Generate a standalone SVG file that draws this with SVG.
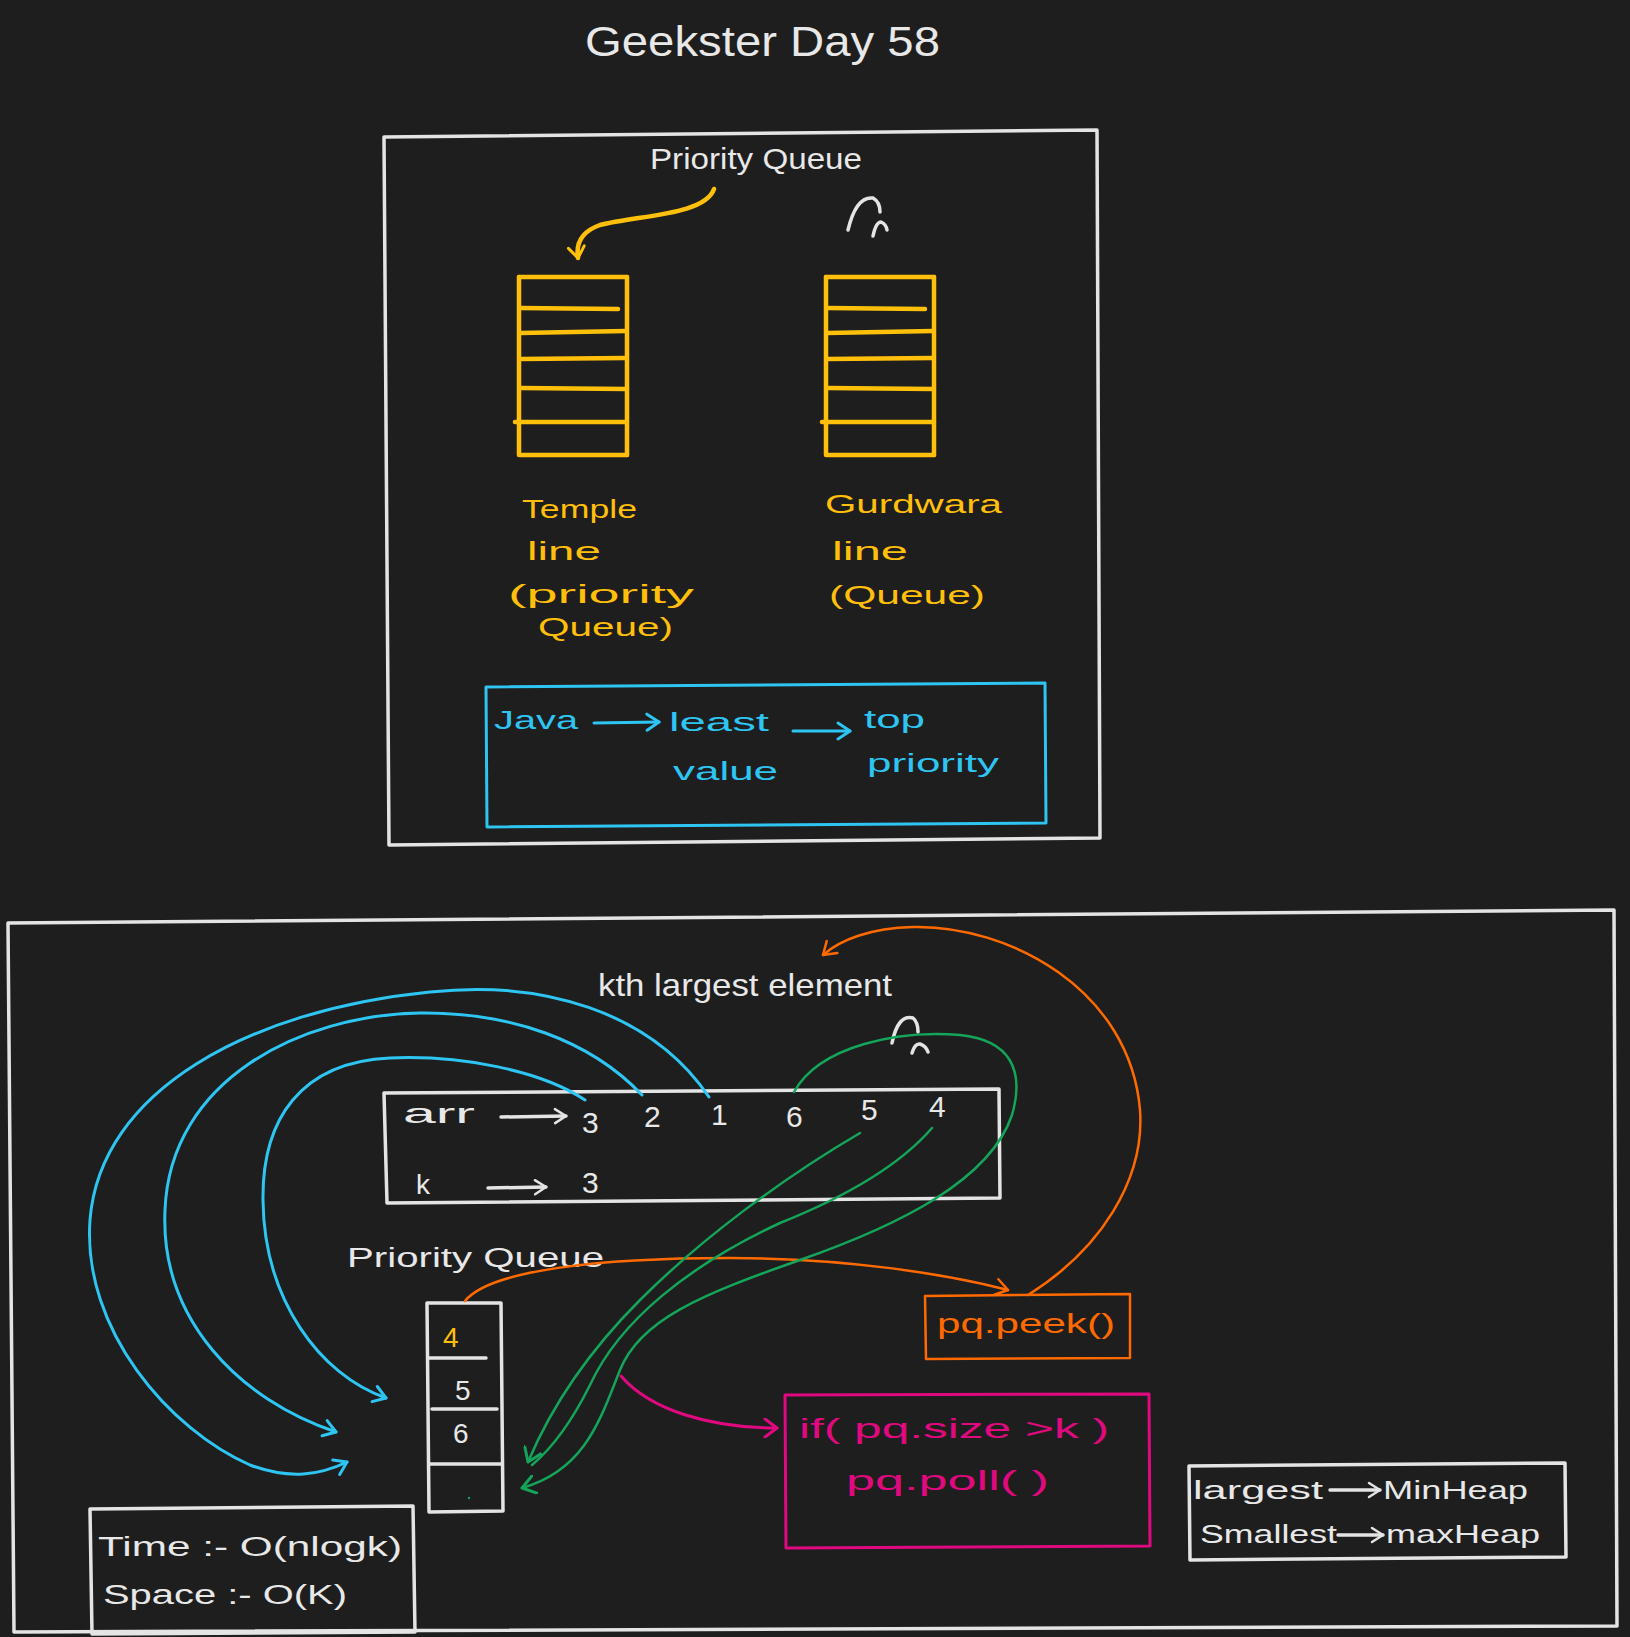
<svg xmlns="http://www.w3.org/2000/svg" width="1630" height="1637" viewBox="0 0 1630 1637">
<style>
.bg{fill:#1e1e1e}
.w{fill:none;stroke:#e4e4e4;stroke-width:3.5;stroke-linecap:round;stroke-linejoin:round}
.y{fill:none;stroke:#ffbf0b;stroke-width:4.5;stroke-linecap:round;stroke-linejoin:round}
.b{fill:none;stroke:#2ec5f3;stroke-width:3;stroke-linecap:round;stroke-linejoin:round}
.o{fill:none;stroke:#ff6a00;stroke-width:2.5;stroke-linecap:round;stroke-linejoin:round}
.g{fill:none;stroke:#14a45a;stroke-width:2.5;stroke-linecap:round;stroke-linejoin:round}
.m{fill:none;stroke:#e0097f;stroke-width:3;stroke-linecap:round;stroke-linejoin:round}
text{font-family:"Liberation Sans","DejaVu Sans",sans-serif}
.tw{fill:#e8e8e8}
.ty{fill:#ffbf0b}
.tb{fill:#2ec5f3}
.to{fill:#ff6a00}
.tm{fill:#e0097f}
</style>
<defs>
<marker id="aw" viewBox="-14 -10 16 20" markerWidth="16" markerHeight="20" refX="0" refY="0" orient="auto" markerUnits="userSpaceOnUse"><path d="M-11,-7 L0,0 L-11,7" fill="none" stroke="#e4e4e4" stroke-width="2.5" stroke-linecap="round" stroke-linejoin="round"/></marker>
<marker id="ay" viewBox="-14 -10 16 20" markerWidth="16" markerHeight="20" refX="0" refY="0" orient="auto" markerUnits="userSpaceOnUse"><path d="M-11,-8 L0,0 L-11,8" fill="none" stroke="#ffbf0b" stroke-width="3" stroke-linecap="round" stroke-linejoin="round"/></marker>
<marker id="ab" viewBox="-14 -10 16 20" markerWidth="16" markerHeight="20" refX="0" refY="0" orient="auto" markerUnits="userSpaceOnUse"><path d="M-12,-8 L0,0 L-12,8" fill="none" stroke="#2ec5f3" stroke-width="3" stroke-linecap="round" stroke-linejoin="round"/></marker>
<marker id="ao" viewBox="-14 -10 16 20" markerWidth="16" markerHeight="20" refX="0" refY="0" orient="auto" markerUnits="userSpaceOnUse"><path d="M-12,-8 L0,0 L-12,8" fill="none" stroke="#ff6a00" stroke-width="2.5" stroke-linecap="round" stroke-linejoin="round"/></marker>
<marker id="ag" viewBox="-14 -10 16 20" markerWidth="16" markerHeight="20" refX="0" refY="0" orient="auto" markerUnits="userSpaceOnUse"><path d="M-13,-9 L0,0 L-13,9" fill="none" stroke="#14a45a" stroke-width="3" stroke-linecap="round" stroke-linejoin="round"/></marker>
<marker id="am" viewBox="-14 -10 16 20" markerWidth="16" markerHeight="20" refX="0" refY="0" orient="auto" markerUnits="userSpaceOnUse"><path d="M-12,-9 L0,0 L-12,9" fill="none" stroke="#e0097f" stroke-width="3" stroke-linecap="round" stroke-linejoin="round"/></marker>
</defs>
<rect class="bg" x="0" y="0" width="1630" height="1637"/>

<g id="title"><text class="tw" x="585" y="56" font-size="42" textLength="355" lengthAdjust="spacingAndGlyphs">Geekster Day 58</text></g>

<g id="top-frame"><path class="w" d="M384,137 L1097,130 L1100,838 L389,845 Z"/></g>

<g id="pq-label"><text class="tw" x="650" y="169" font-size="29" textLength="212" lengthAdjust="spacingAndGlyphs">Priority Queue</text></g>

<g id="marks-top">
<path class="w" d="M848,230 Q856,196 873,198 Q880,202 880,212"/>
<path class="w" d="M873,236 Q876,222 881,222 Q886,224 887,230"/>
</g>

<g id="temple-stack">
<path class="y" d="M519,277 L519,455 M627,277 L627,455"/>
<path class="y" d="M519,277 L627,277" stroke-width="5.5"/>
<path class="y" d="M520,308 L618,309 M520,333 L626,331 M520,359 L626,358 M520,388 L627,389 M515,422 L627,422"/>
<path class="y" d="M520,455 L627,455" stroke-width="5.5"/>
</g>
<g id="gurdwara-stack">
<path class="y" d="M826,277 L826,455 M934,277 L934,455"/>
<path class="y" d="M826,277 L934,277" stroke-width="5.5"/>
<path class="y" d="M827,308 L925,309 M827,333 L933,331 M827,359 L933,358 M827,388 L934,389 M822,422 L934,422"/>
<path class="y" d="M827,455 L934,455" stroke-width="5.5"/>
</g>

<g id="temple-label">
<text class="ty" x="522" y="518" font-size="26" textLength="115" lengthAdjust="spacingAndGlyphs">Temple</text>
<text class="ty" x="527" y="560" font-size="26" textLength="74" lengthAdjust="spacingAndGlyphs">line</text>
<text class="ty" x="508" y="603" font-size="26" textLength="186" lengthAdjust="spacingAndGlyphs">(priority</text>
<text class="ty" x="538" y="636" font-size="26" textLength="135" lengthAdjust="spacingAndGlyphs">Queue)</text>
</g>
<g id="gurdwara-label">
<text class="ty" x="825" y="513" font-size="26" textLength="177" lengthAdjust="spacingAndGlyphs">Gurdwara</text>
<text class="ty" x="832" y="560" font-size="26" textLength="76" lengthAdjust="spacingAndGlyphs">line</text>
<text class="ty" x="829" y="604" font-size="26" textLength="156" lengthAdjust="spacingAndGlyphs">(Queue)</text>
</g>

<g id="java-box">
<path class="b" d="M486,687 L1045,683 L1046,823 L487,827 Z" stroke-width="4"/>
<text class="tb" x="494" y="729" font-size="26" textLength="84" lengthAdjust="spacingAndGlyphs">Java</text>
<text class="tb" x="669" y="731" font-size="26" textLength="100" lengthAdjust="spacingAndGlyphs">least</text>
<text class="tb" x="864" y="728" font-size="26" textLength="61" lengthAdjust="spacingAndGlyphs">top</text>
<text class="tb" x="673" y="780" font-size="26" textLength="105" lengthAdjust="spacingAndGlyphs">value</text>
<text class="tb" x="867" y="772" font-size="26" textLength="132" lengthAdjust="spacingAndGlyphs">priority</text>
<path class="b" d="M594,723 L659,722" marker-end="url(#ab)"/>
<path class="b" d="M793,731 L850,731" marker-end="url(#ab)"/>
</g>

<g id="bottom-frame"><path class="w" d="M8,923 L1614,910 L1617,1626 L14,1632 Z"/></g>

<g id="kth-label"><text class="tw" x="598" y="996" font-size="32" textLength="294" lengthAdjust="spacingAndGlyphs">kth largest element</text></g>

<g id="marks-bottom">
<path class="w" d="M892,1043 Q898,1014 913,1018 Q918,1022 918,1032"/>
<path class="w" d="M912,1053 Q915,1043 920,1044 Q926,1046 928,1052"/>
</g>

<g id="arr-box">
<path class="w" d="M384,1093 L999,1089 L1000,1198 L387,1203 Z"/>
<text class="tw" x="403" y="1123" font-size="28" textLength="72" lengthAdjust="spacingAndGlyphs">arr</text>
<path class="w" d="M501,1117 L566,1116" stroke-width="3" marker-end="url(#aw)"/>
<text class="tw" x="582" y="1133" font-size="30">3</text>
<text class="tw" x="644" y="1127" font-size="30">2</text>
<text class="tw" x="711" y="1125" font-size="30">1</text>
<text class="tw" x="786" y="1127" font-size="30">6</text>
<text class="tw" x="861" y="1120" font-size="30">5</text>
<text class="tw" x="929" y="1117" font-size="30">4</text>
<text class="tw" x="416" y="1194" font-size="28">k</text>
<path class="w" d="M488,1188 L546,1187" stroke-width="3" marker-end="url(#aw)"/>
<text class="tw" x="582" y="1193" font-size="30">3</text>
</g>

<g id="pq2-label"><text class="tw" x="347" y="1267" font-size="27" textLength="257" lengthAdjust="spacingAndGlyphs">Priority Queue</text></g>

<g id="pq-stack">
<path class="w" d="M427,1303 L501,1303 L503,1511 L429,1512 Z"/>
<path class="w" d="M429,1358 L486,1358 M432,1409 L497,1409 M429,1464 L502,1464"/>
<text class="ty" x="443" y="1347" font-size="28">4</text>
<text class="tw" x="455" y="1400" font-size="28">5</text>
<text class="tw" x="453" y="1443" font-size="28">6</text>
<circle cx="469" cy="1498" r="1.2" fill="#14a45a"/>
</g>

<g id="peek-box">
<path class="o" d="M925,1296 L1130,1294 L1130,1358 L926,1359 Z" stroke-width="4"/>
<text class="to" x="937" y="1333" font-size="28" textLength="178" lengthAdjust="spacingAndGlyphs">pq.peek()</text>
</g>

<g id="poll-box">
<path class="m" d="M785,1395 L1149,1394 L1150,1546 L786,1548 Z" stroke-width="4"/>
<text class="tm" x="799" y="1438" font-size="28" textLength="310" lengthAdjust="spacingAndGlyphs">if( pq.size &gt;k )</text>
<text class="tm" x="846" y="1490" font-size="28" textLength="203" lengthAdjust="spacingAndGlyphs">pq.poll( )</text>
</g>

<g id="heap-box">
<path class="w" d="M1189,1466 L1565,1463 L1566,1557 L1190,1560 Z"/>
<text class="tw" x="1193" y="1499" font-size="26" textLength="130" lengthAdjust="spacingAndGlyphs">largest</text>
<path class="w" d="M1330,1490 L1380,1490" stroke-width="3" marker-end="url(#aw)"/>
<text class="tw" x="1383" y="1499" font-size="26" textLength="145" lengthAdjust="spacingAndGlyphs">MinHeap</text>
<text class="tw" x="1200" y="1543" font-size="26" textLength="137" lengthAdjust="spacingAndGlyphs">Smallest</text>
<path class="w" d="M1338,1535 L1383,1535" stroke-width="3" marker-end="url(#aw)"/>
<text class="tw" x="1386" y="1543" font-size="26" textLength="154" lengthAdjust="spacingAndGlyphs">maxHeap</text>
</g>

<g id="complexity-box">
<path class="w" d="M90,1509 L413,1506 L415,1632 L92,1634 Z"/>
<text class="tw" x="98" y="1556" font-size="27" textLength="304" lengthAdjust="spacingAndGlyphs">Time :- O(nlogk)</text>
<text class="tw" x="103" y="1604" font-size="27" textLength="244" lengthAdjust="spacingAndGlyphs">Space :- O(K)</text>
</g>

<g id="connectors">
<path class="y" d="M714,189 C705,215 640,215 600,225 C580,232 576,245 578,258" stroke-width="3" marker-end="url(#ay)"/>
<path class="b" d="M709,1097 C650,1010 540,980 430,992 C250,1010 100,1090 90,1220 C82,1330 170,1430 250,1465 C290,1480 320,1475 347,1462" marker-end="url(#ab)"/>
<path class="b" d="M642,1095 C590,1040 510,1012 420,1013 C300,1015 170,1080 165,1210 C160,1320 240,1400 336,1432" marker-end="url(#ab)"/>
<path class="b" d="M585,1100 C540,1070 460,1055 390,1058 C300,1062 262,1120 263,1200 C264,1300 320,1375 386,1398" marker-end="url(#ab)"/>
<path class="o" d="M465,1301 C490,1270 600,1258 730,1258 C850,1258 950,1275 1008,1290" marker-end="url(#ao)"/>
<path class="o" d="M1028,1295 C1100,1250 1145,1180 1140,1110 C1130,990 1010,925 913,927 C870,928 840,940 823,955" marker-end="url(#ao)"/>
<path class="g" d="M794,1092 C820,1045 900,1030 960,1035 C1010,1040 1025,1070 1012,1115 C990,1180 900,1225 800,1260 C700,1295 640,1320 620,1370 C600,1420 585,1470 522,1488" stroke-width="3" marker-end="url(#ag)"/>
<path class="g" d="M860,1133 C780,1180 700,1240 640,1300 C585,1355 550,1410 528,1462" marker-end="url(#ag)"/>
<path class="g" d="M932,1128 C900,1165 850,1195 780,1223 C690,1265 620,1320 590,1385 C570,1425 550,1450 532,1465"/>
<path class="m" d="M621,1376 C650,1410 710,1428 777,1428" marker-end="url(#am)"/>
</g>
</svg>
